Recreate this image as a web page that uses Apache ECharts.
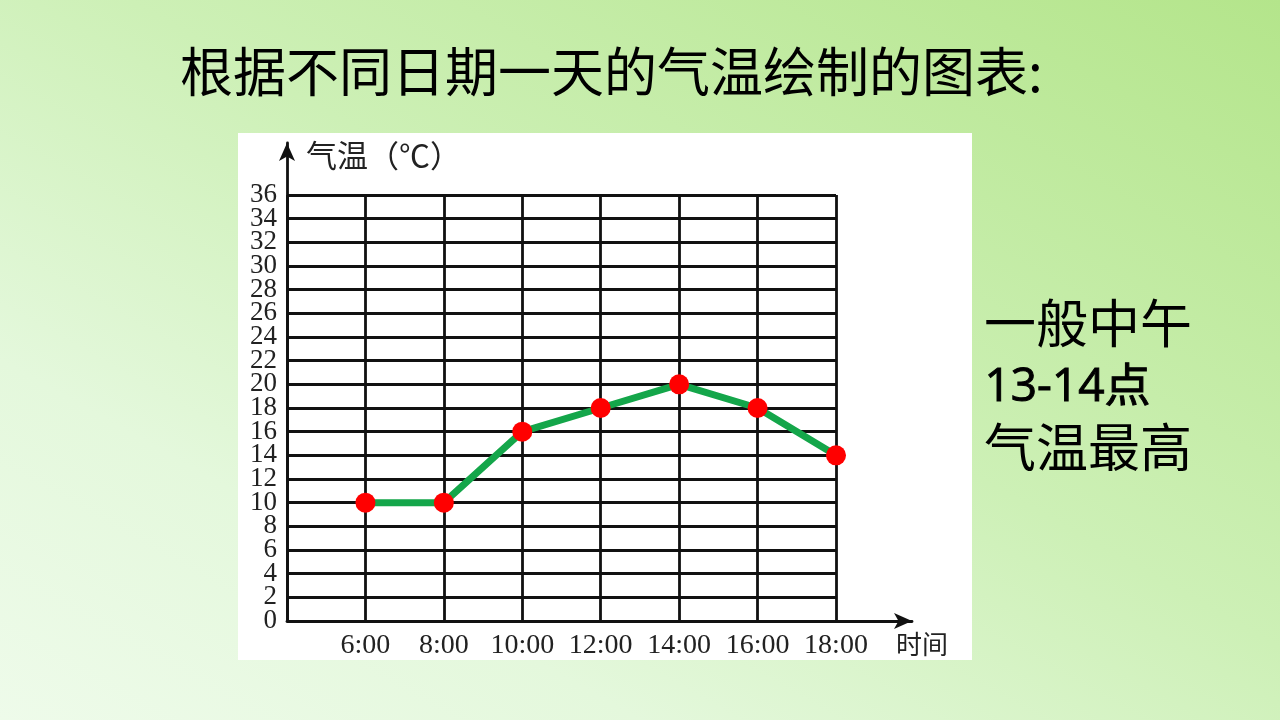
<!DOCTYPE html>
<html>
<head>
<meta charset="utf-8">
<script src="https://cdn.jsdelivr.net/npm/echarts@6/dist/echarts.min.js"></script>
<style>
html,body{margin:0;padding:0;width:1280px;height:720px;overflow:hidden;
background:linear-gradient(to bottom left,#b4e58b 0%,#cdf0b6 45%,#e4f8dc 75%,#eefbea 100%);}
#chart{width:1280px;height:720px;}
</style>
</head>
<body>
<div id="chart"></div>
<script>
// Data
const hours = [6, 8, 10, 12, 14, 16, 18];
const timeLabels = ['6:00', '8:00', '10:00', '12:00', '14:00', '16:00', '18:00'];
const temps = [10, 10, 16, 18, 20, 18, 14];
const titleText = '根据不同日期一天的气温绘制的图表:';
const noteLines = ['一般中午', '13-14点', '气温最高'];
const yName = '气温（℃）';
const xName = '时间';

const chart = echarts.init(document.getElementById('chart'));
const serif = '"Liberation Serif","DejaVu Serif",serif';
const cjk = '"Noto Sans CJK SC","Noto Sans",sans-serif';
const black = '#111';
const gridW = 2.8;

const labelMap = {};
hours.forEach((h, i) => { labelMap[h] = timeLabels[i]; });

// y tick labels are split over two overlaid axes (every other label each) so none get hidden
function yLabelAxis(keepRemainder, showGrid) {
  return {
    type: 'value', gridIndex: 0, min: 0, max: 36, interval: 2, position: 'left', offset: 0,
    axisLine: { show: false }, axisTick: { show: false },
    splitLine: { show: showGrid, lineStyle: { color: black, width: gridW } },
    axisLabel: {
      margin: 10, fontFamily: serif, fontSize: 27, color: '#222',
      showMinLabel: true, showMaxLabel: true, hideOverlap: false,
      formatter: v => (v % 4 === keepRemainder ? String(v) : '')
    }
  };
}

chart.setOption({
  backgroundColor: 'transparent',
  animation: false,
  graphic: [
    { type: 'rect', left: 238, top: 133, z: -10, shape: { width: 734, height: 527 }, style: { fill: '#ffffff' } },
    { type: 'text', left: 180, top: 45, style: { text: titleText, font: '53px ' + cjk, fill: '#000' } },
    { type: 'text', left: 984, top: 297, style: { text: noteLines[0], font: '52px ' + cjk, fill: '#000' } },
    { type: 'text', left: 984, top: 364, style: { text: noteLines[1], font: '46px "Open Sans","Noto Sans CJK SC",sans-serif', fill: '#000', stroke: '#000', lineWidth: 1 } },
    { type: 'text', left: 984, top: 421, style: { text: noteLines[2], font: '52px ' + cjk, fill: '#000' } }
  ],
  grid: [
    { left: 287, right: 1280 - 836, top: 195, bottom: 99, containLabel: false, outerBoundsMode: 'none' },
    { left: 287, right: 1280 - 912, top: 143, bottom: 99, containLabel: false, outerBoundsMode: 'none' }
  ],
  xAxis: [
    {
      type: 'value', gridIndex: 0, min: 4, max: 18, interval: 2,
      axisLine: { show: false }, axisTick: { show: false },
      splitLine: { show: true, lineStyle: { color: black, width: gridW } },
      axisLabel: {
        margin: 11, fontFamily: serif, fontSize: 28, color: '#222',
        showMinLabel: true, showMaxLabel: true, hideOverlap: false,
        formatter: v => labelMap[v] || ''
      }
    },
    {
      type: 'value', gridIndex: 1, min: 0, max: 1,
      axisLine: { show: true, symbol: ['none', 'arrow'], symbolSize: [12, 18], lineStyle: { color: black, width: gridW } },
      axisTick: { show: false }, axisLabel: { show: false }, splitLine: { show: false },
      name: xName, nameLocation: 'end', nameGap: 36,
      nameTextStyle: { fontFamily: cjk, fontSize: 26, color: '#222', align: 'right', verticalAlign: 'top', padding: [10, 0, 0, 0] }
    }
  ],
  yAxis: [
    yLabelAxis(0, true),
    {
      type: 'value', gridIndex: 1, min: 0, max: 1,
      axisLine: { show: true, symbol: ['none', 'arrow'], symbolSize: [12, 18], lineStyle: { color: black, width: gridW } },
      axisTick: { show: false }, axisLabel: { show: false }, splitLine: { show: false },
      name: yName, nameLocation: 'end', nameGap: -12,
      nameTextStyle: { fontFamily: cjk, fontSize: 31, color: '#222', align: 'left', verticalAlign: 'middle', padding: [0, 0, 0, 19] }
    },
    yLabelAxis(2, false)
  ],
  series: [{
    type: 'line', xAxisIndex: 0, yAxisIndex: 0,
    data: hours.map((h, i) => [h, temps[i]]),
    lineStyle: { color: '#14a64a', width: 7 },
    symbol: 'circle', symbolSize: 20,
    itemStyle: { color: '#ff0000' },
    z: 5
  }]
});
</script>
</body>
</html>
